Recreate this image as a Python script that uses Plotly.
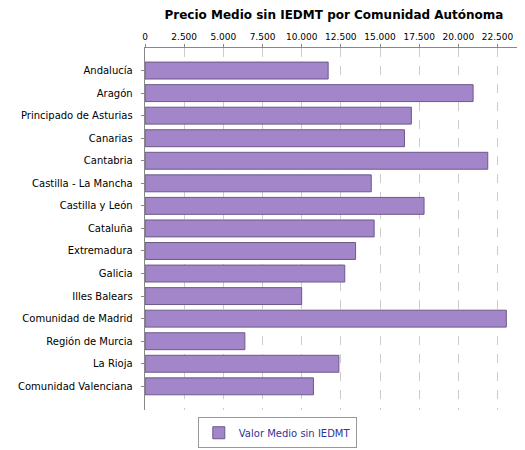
import plotly.graph_objects as go

categories = ["Andalucía","Aragón","Principado de Asturias","Canarias","Cantabria",
              "Castilla - La Mancha","Castilla y León","Cataluña","Extremadura","Galicia",
              "Illes Balears","Comunidad de Madrid","Región de Murcia","La Rioja","Comunidad Valenciana"]
values = [11690, 20940, 17000, 16560, 21875, 14440, 17810, 14625, 13440, 12750,
          10000, 23060, 6375, 12375, 10750]
tick_vals = [0,2500,5000,7500,10000,12500,15000,17500,20000,22500]
tick_text = ["0","2.500","5.000","7.500","10.000","12.500","15.000","17.500","20.000","22.500"]

fig = go.Figure(go.Bar(
    x=values, y=categories, orientation="h", width=0.75,
    marker=dict(color="#a385c9", line=dict(color="#6b5a8a", width=1)),
    name="Valor Medio sin IEDMT"))

fig.update_layout(
    width=525, height=450, paper_bgcolor="white", plot_bgcolor="white",
    margin=dict(l=129, r=10, t=40, b=28),
    title=dict(text="<b>Precio Medio sin IEDMT por Comunidad Autónoma</b>", x=0.5, xref="paper",
               y=0.995, yanchor="top", font=dict(family="DejaVu Sans", size=12, color="black")),
    font=dict(family="DejaVu Sans", size=10, color="black"),
    showlegend=True,
    legend=dict(orientation="h", x=0.35, xanchor="center", y=-0.02, yanchor="top",
                bordercolor="#999999", borderwidth=1, font=dict(size=10, color="#333399")),
    xaxis=dict(side="top", range=[0, 24125], tickvals=tick_vals, ticktext=tick_text,
               showgrid=True, gridcolor="#cccccc", griddash="dash", gridwidth=1,
               showline=True, linecolor="#888888", ticks="outside", ticklen=3,
               tickcolor="#888888", tickfont=dict(size=9), zeroline=False, fixedrange=True),
    yaxis=dict(autorange=False, range=[15.05, -1.0], showline=True, linecolor="#888888",
               ticks="outside", ticklen=3, tickcolor="#888888", ticksuffix="  ",
               showgrid=False, tickfont=dict(size=10)),
)
fig.write_html("out.html")
